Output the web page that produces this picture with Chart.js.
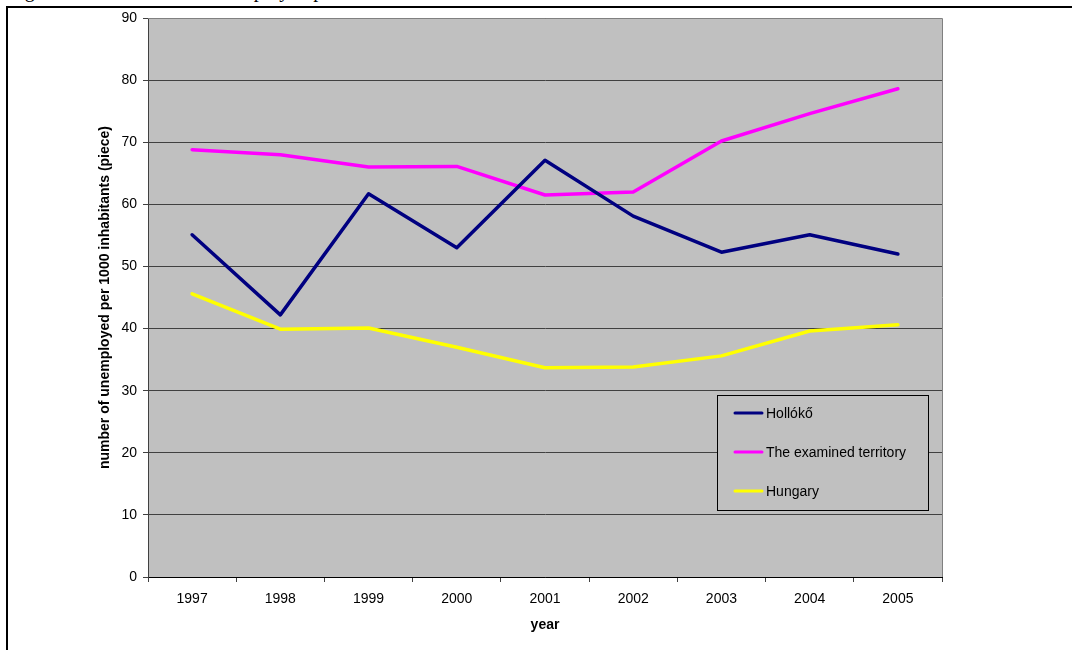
<!DOCTYPE html>
<html>
<head>
<meta charset="utf-8">
<script src="https://cdn.jsdelivr.net/npm/chart.js@4"></script>
<style>
  html, body { margin: 0; padding: 0; background: #fff; }
  #wrap { position: relative; width: 1072px; height: 650px; overflow: hidden; }
  #frame { position: absolute; left: 6px; top: 6px; width: 1200px; height: 800px;
           border-top: 2px solid #000; border-left: 2px solid #000; }
  #caption { position: absolute; left: 8px; top: -21px; font: 20px/22px "Liberation Serif", "Times New Roman", serif; color: #000; white-space: nowrap; }
  #c { position: absolute; left: 0; top: 0; }
</style>
</head>
<body>
<div id="wrap">
  <div id="caption">Figure 4: The number of unemployed per 1000 inhabitants</div>
  <div id="frame"></div>
  <canvas id="c" width="1072" height="650"></canvas>
</div>
<script>
// dados
const years = ['1997','1998','1999','2000','2001','2002','2003','2004','2005'];
const hollokoValues = [55.1, 42.2, 61.7, 53.0, 67.1, 58.1, 52.3, 55.1, 52.0];
const territoryValues = [68.8, 68.0, 66.0, 66.1, 61.5, 62.0, 70.2, 74.6, 78.6];
const hungaryValues = [45.6, 39.9, 40.1, 37.0, 33.7, 33.8, 35.6, 39.6, 40.6];
const seriesNames = ['Hollókő', 'The examined territory', 'Hungary'];
const seriesColors = ['#000080', '#FF00FF', '#FFFF00'];

const font = { family: 'Liberation Sans, Arial, sans-serif', size: 14 };

// fundo cinza da área do gráfico
const plotBg = {
  id: 'plotBg',
  beforeDraw(chart) {
    const { ctx, chartArea: a } = chart;
    ctx.save();
    ctx.fillStyle = '#C0C0C0';
    ctx.fillRect(a.left, a.top, a.right - a.left, a.bottom - a.top);
    ctx.restore();
  },
  afterDatasetsDraw(chart) {
    const { ctx, chartArea: a } = chart;
    ctx.save();
    ctx.strokeStyle = '#808080';
    ctx.lineWidth = 1;
    ctx.beginPath();
    ctx.moveTo(a.left, a.top + 0.5);
    ctx.lineTo(a.right + 0.5, a.top + 0.5);
    ctx.lineTo(a.right + 0.5, a.bottom);
    ctx.stroke();
    ctx.restore();
  }
};

// legenda dentro da área, estilo Excel
const boxLegend = {
  id: 'boxLegend',
  afterDraw(chart) {
    const ctx = chart.ctx;
    const x = 717, y = 395, w = 211, h = 115;
    ctx.save();
    ctx.fillStyle = '#C0C0C0';
    ctx.fillRect(x, y, w, h);
    ctx.strokeStyle = '#000';
    ctx.lineWidth = 1;
    ctx.strokeRect(x + 0.5, y + 0.5, w, h);
    ctx.font = '14px ' + font.family;
    ctx.textBaseline = 'middle';
    chart.data.datasets.forEach((ds, i) => {
      const ry = 413 + i * 39;
      ctx.strokeStyle = ds.borderColor;
      ctx.lineWidth = 3;
      ctx.lineCap = 'round';
      ctx.beginPath();
      ctx.moveTo(735, ry);
      ctx.lineTo(762, ry);
      ctx.stroke();
      ctx.fillStyle = '#000';
      ctx.fillText(ds.label, 766, ry + 1);
    });
    ctx.restore();
  }
};

const mkDs = (label, data, color) => ({
  label, data, borderColor: color, backgroundColor: color,
  borderWidth: 3.5, pointRadius: 0, tension: 0, borderCapStyle: 'round', borderJoinStyle: 'round'
});

new Chart(document.getElementById('c'), {
  type: 'line',
  data: {
    labels: years,
    datasets: [
      mkDs(seriesNames[0], hollokoValues, seriesColors[0]),
      mkDs(seriesNames[1], territoryValues, seriesColors[1]),
      mkDs(seriesNames[2], hungaryValues, seriesColors[2])
    ]
  },
  options: {
    responsive: false,
    animation: false,
    layout: { padding: { left: 97, top: 18, right: 130, bottom: 0 } },
    plugins: { legend: { display: false }, tooltip: { enabled: false } },
    scales: {
      x: {
        offset: true,
        grid: { offset: true, drawOnChartArea: false, drawTicks: true, tickLength: 5, color: '#404040' },
        border: { color: '#000', width: 1 },
        ticks: { color: '#000', font, padding: 9, maxRotation: 0 },
        title: { display: true, text: 'year', color: '#000', font: { ...font, weight: 'bold' }, padding: { top: 0, bottom: 16 } },
        afterFit(s) { s.height = 73; }
      },
      y: {
        min: 0, max: 90,
        grid: { color: '#404040', lineWidth: 1, tickLength: 5 },
        border: { color: '#404040', width: 1 },
        ticks: { stepSize: 10, color: '#000', font, padding: 6 },
        title: { display: true, text: 'number of unemployed per 1000 inhabitants (piece)', color: '#000', font: { ...font, weight: 'bold' }, padding: { top: 0, bottom: 0 } },
        afterFit(s) { s.width = 51; }
      }
    }
  },
  plugins: [plotBg, boxLegend]
});
</script>
</body>
</html>
